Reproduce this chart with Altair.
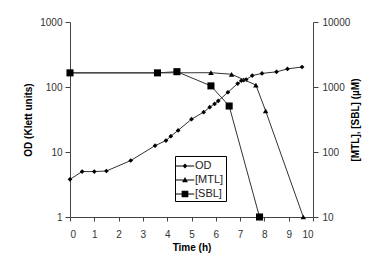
import altair as alt
import pandas as pd

# ---- data ----
od_time = [0, 0.5, 1.0, 1.5, 2.5, 3.5, 3.95, 4.15, 4.45, 5.0, 5.5, 5.75, 5.95, 6.1,
           6.5, 6.9, 7.05, 7.15, 7.25, 7.5, 7.9, 8.5, 8.95, 9.55]
od_value = [3.8, 5.0, 5.0, 5.1, 7.4, 12.5, 15, 17.5, 21.5, 32, 41, 49, 55, 61,
            83, 113, 125, 128, 130, 150, 162, 171, 190, 203]

mtl_time = [0, 3.6, 5.8, 6.65, 7.65, 8.05, 9.6]
mtl_value = [1650, 1650, 1660, 1570, 1070, 430, 10]

sbl_time = [0, 3.6, 4.4, 5.8, 6.55, 7.8]
sbl_value = [1650, 1650, 1720, 1040, 510, 10]

series_names = ["OD", "[MTL]", "[SBL]"]
x_ticks = list(range(0, 11))
od_ticks = [1, 10, 100, 1000]
conc_ticks = [10, 100, 1000, 10000]

od_df = pd.DataFrame({"time": od_time, "value": od_value})
chem_df = pd.concat([
    pd.DataFrame({"time": mtl_time, "value": mtl_value, "series": "[MTL]"}),
    pd.DataFrame({"time": sbl_time, "value": sbl_value, "series": "[SBL]"}),
], ignore_index=True)
legend_df = pd.DataFrame({"series": series_names})

LINE = "#333333"
AX = "#444444"

x_enc = alt.X("time:Q", scale=alt.Scale(domain=[0, 10], nice=False),
              axis=alt.Axis(values=x_ticks, title="Time (h)", tickSize=4,
                            labelPadding=8, titlePadding=3, grid=False))

y_left = alt.Y("value:Q",
               scale=alt.Scale(type="log", domain=[1, 1000], nice=False),
               axis=alt.Axis(values=od_ticks, format="d", title="OD (Klett units)",
                             tickSize=5, labelPadding=3, titlePadding=6, grid=False))
y_right = alt.Y("value:Q",
                scale=alt.Scale(type="log", domain=[10, 10000], nice=False),
                axis=alt.Axis(values=conc_ticks, format="d", orient="right",
                              title="[MTL], [SBL] (µM)", titleAngle=270,
                              tickSize=5, labelPadding=4, titlePadding=11, grid=False))

od_line = alt.Chart(od_df).mark_line(color=LINE, strokeWidth=1).encode(x=x_enc, y=y_left)
od_pts = alt.Chart(od_df).mark_point(filled=True, color="black", opacity=1, size=22).encode(
    x=x_enc, y=y_left, shape=alt.value("diamond"))
left = alt.layer(od_line, od_pts)

chem_line = alt.Chart(chem_df).mark_line(color=LINE, strokeWidth=1).encode(
    x=x_enc, y=y_right, detail="series:N")
mtl_pts = alt.Chart(chem_df).transform_filter(alt.datum.series == "[MTL]").mark_point(
    filled=True, color="black", opacity=1, size=30).encode(
    x=x_enc, y=y_right, shape=alt.value("triangle-up"))
sbl_pts = alt.Chart(chem_df).transform_filter(alt.datum.series == "[SBL]").mark_point(
    filled=True, color="black", opacity=1, size=50).encode(
    x=x_enc, y=y_right, shape=alt.value("square"))

BAR = "M-1.15,-0.055H1.15V0.055H-1.15Z"
legend_paths = [
    BAR + "M0,-0.3L0.3,0L0,0.3L-0.3,0Z",
    BAR + "M0,-0.38L0.36,0.28L-0.36,0.28Z",
    BAR + "M-0.42,-0.42H0.42V0.42H-0.42Z",
]
legend_layer = alt.Chart(legend_df).mark_point(
    filled=True, color="black", opacity=0).encode(
    shape=alt.Shape("series:N",
                    scale=alt.Scale(domain=series_names, range=legend_paths),
                    legend=alt.Legend(title=None, orient="none", legendX=105, legendY=134,
                                      strokeColor="black", fillColor="white",
                                      padding=2, rowPadding=1, symbolSize=256,
                                      labelFontSize=11, labelOffset=2,
                                      symbolOpacity=1, symbolFillColor="black",
                                      symbolStrokeWidth=0)))
right = alt.layer(chem_line, mtl_pts, sbl_pts, legend_layer)

chart = alt.layer(left, right).resolve_scale(y="independent").properties(
    width=243, height=195,
    autosize=alt.AutoSizeParams(type="none"),
    padding={"left": 62, "top": 14, "right": 61, "bottom": 48},
).configure_view(stroke=None).configure_axis(
    domainColor=AX, tickColor=AX, labelFont="Liberation Sans", labelFontSize=10,
    labelColor="#333333", titleFont="Liberation Sans", titleFontSize=10,
    titleFontWeight="bold", titleColor="black",
).configure_legend(labelFont="Liberation Sans", labelColor="#222222")

chart.save("out.html", embed_options={"renderer": "svg", "actions": False})
